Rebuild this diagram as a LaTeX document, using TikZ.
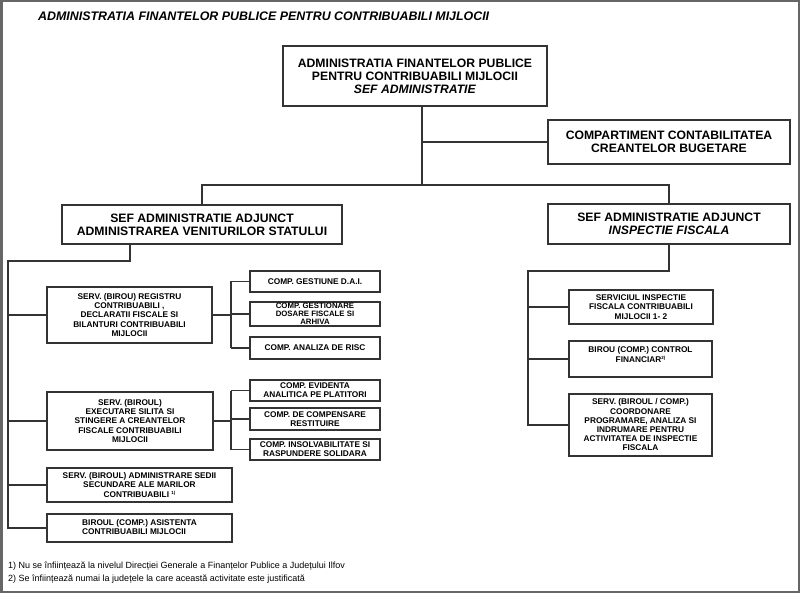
\documentclass[tikz,border=0pt]{standalone}
\usepackage{fontspec}
\setmainfont{Liberation Sans}
\definecolor{linec}{HTML}{333333}
\definecolor{framec}{HTML}{666666}
\newcommand{\fnmark}[1]{\raisebox{3pt}{\fontsize{4.5}{4.5}\selectfont #1}}
\begin{document}
\begin{tikzpicture}[x=1pt,y=-1pt,
  box/.style={draw=linec, line width=1.3pt, inner sep=0pt, align=center, font=\bfseries\fontsize{12.2}{13}\selectfont},
  sbox/.style={draw=linec, line width=1.3pt, inner sep=0pt, align=center, font=\bfseries\fontsize{8.3}{9.2}\selectfont},
  conn/.style={draw=linec, line width=1.4pt},
  note/.style={anchor=base west, inner sep=0pt, font=\fontsize{9}{11}\selectfont}
]
\useasboundingbox (0,0) rectangle (800,593);
\draw[framec, line width=2.5pt] (1.25,1.25) rectangle (798.75,591.75);

\node[anchor=base west, inner sep=0pt, font=\bfseries\itshape\fontsize{12.4}{13}\selectfont] (title) at (38,20.5) {ADMINISTRATIA FINANTELOR PUBLICE PENTRU CONTRIBUABILI MIJLOCII};

% top level
\node[box, minimum width=264pt, minimum height=60pt] (top) at (415,76) {ADMINISTRATIA FINANTELOR PUBLICE\\PENTRU CONTRIBUABILI MIJLOCII\\\textit{SEF ADMINISTRATIE}};
\node[box, minimum width=242pt, minimum height=44pt] (comp) at (669,142) {COMPARTIMENT CONTABILITATEA\\CREANTELOR BUGETARE};
\node[box, minimum width=280pt, minimum height=39pt] (adjL) at (202,224.5) {SEF ADMINISTRATIE ADJUNCT\\ADMINISTRAREA VENITURILOR STATULUI};
\node[box, minimum width=242pt, minimum height=40pt] (adjR) at (669,224) {SEF ADMINISTRATIE ADJUNCT\\\textit{INSPECTIE FISCALA}};

% left services
\node[sbox, minimum width=165pt, minimum height=56pt] (b1) at (129.5,315) {SERV. (BIROU) REGISTRU\\CONTRIBUABILI ,\\DECLARATII FISCALE SI\\BILANTURI CONTRIBUABILI\\MIJLOCII};
\node[sbox, minimum width=166pt, minimum height=58pt] (b2) at (130,421) {SERV. (BIROUL)\\EXECUTARE SILITA SI\\STINGERE A CREANTELOR\\FISCALE CONTRIBUABILI\\MIJLOCII};
\node[sbox, minimum width=185pt, minimum height=34pt] (b3) at (139.5,485) {SERV. (BIROUL) ADMINISTRARE SEDII\\SECUNDARE ALE MARILOR\\CONTRIBUABILI \fnmark{1)}};
\node[sbox, align=left, minimum width=185pt, minimum height=28pt] (b4) at (139.5,528) {\begin{tabular}{@{}l@{}}BIROUL (COMP.) ASISTENTA\\CONTRIBUABILI MIJLOCII\end{tabular}};

% sub compartments
\node[sbox, minimum width=130pt, minimum height=21pt] (s11) at (315,281.5) {COMP. GESTIUNE D.A.I.};
\node[sbox, minimum width=130pt, minimum height=24pt, font=\bfseries\fontsize{7.8}{7.8}\selectfont] (s12) at (315,314) {COMP. GESTIONARE\\DOSARE FISCALE SI\\ARHIVA};
\node[sbox, minimum width=130pt, minimum height=22pt] (s13) at (315,348) {COMP. ANALIZA DE RISC};
\node[sbox, minimum width=130pt, minimum height=21pt] (s21) at (315,390.5) {COMP. EVIDENTA\\ANALITICA PE PLATITORI};
\node[sbox, minimum width=130pt, minimum height=22pt] (s22) at (315,419) {COMP. DE COMPENSARE\\RESTITUIRE};
\node[sbox, minimum width=130pt, minimum height=21pt] (s23) at (315,449.5) {COMP. INSOLVABILITATE SI\\RASPUNDERE SOLIDARA};

% right services
\node[sbox, minimum width=144pt, minimum height=34pt] (r1) at (641,307) {SERVICIUL INSPECTIE\\FISCALA CONTRIBUABILI\\MIJLOCII 1- 2};
\node[sbox, minimum width=143pt, minimum height=36pt,
  label={[font=\bfseries\fontsize{8.3}{9.2}\selectfont, align=center, inner sep=0pt, yshift=4.5pt]center:{BIROU (COMP.) CONTROL\\FINANCIAR\fnmark{2)}}}] (r2) at (640.5,359) {};
\node[sbox, minimum width=143pt, minimum height=62pt] (r3) at (640.5,425) {SERV. (BIROUL / COMP.)\\COORDONARE\\PROGRAMARE, ANALIZA SI\\INDRUMARE PENTRU\\ACTIVITATEA DE INSPECTIE\\FISCALA};

% footnotes
\node[note] (n1) at (8,568.5) {1) Nu se înființează la nivelul Direcției Generale a Finanțelor Publice a Județului Ilfov};
\node[note] (n2) at (8,581.5) {2) Se înființează numai la județele la care această activitate este justificată};

% connectors top
\coordinate (t1) at (422,185);
\draw[conn] (top.south -| t1) -- (t1);
\draw[conn] (comp.west) -- (comp.west -| t1);
\draw[conn] (adjL.north) -- (adjL.north |- t1) -- (adjR.north |- t1) -- (adjR.north);

% left trunk
\coordinate (lk) at (130,261);
\coordinate (lt) at (8,261);
\draw[conn] (adjL.south -| lk) -- (lk) -- (lt) -- (lt |- b4.west) -- (b4.west);
\foreach \n in {b1,b2,b3} \draw[conn] (lt |- \n.west) -- (\n.west);

% sub branches
\coordinate (sx) at (231,0);
\draw[conn] (b1.east) -- (b1.east -| sx);
\draw[conn] (s11.west -| sx) -- (s13.west -| sx);
\foreach \n in {s11,s12,s13} \draw[conn] (\n.west -| sx) -- (\n.west);
\draw[conn] (b2.east) -- (b2.east -| sx);
\draw[conn] (s21.west -| sx) -- (s23.west -| sx);
\foreach \n in {s21,s22,s23} \draw[conn] (\n.west -| sx) -- (\n.west);

% right trunk
\coordinate (rk) at (669,271);
\coordinate (rt) at (528,271);
\draw[conn] (adjR.south) -- (rk) -- (rt) -- (rt |- r3.west) -- (r3.west);
\foreach \n in {r1,r2} \draw[conn] (rt |- \n.west) -- (\n.west);
\end{tikzpicture}
\end{document}
